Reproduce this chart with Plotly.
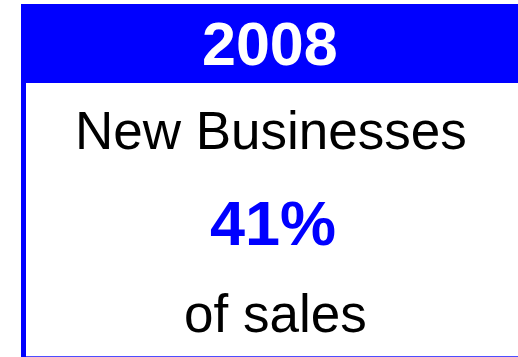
import plotly.graph_objects as go

# Card content
year = ["2008"]
labels = ["New Businesses"]
share_pct = [41]
suffix = ["of sales"]

W, H = 518, 357
BLUE = "#0000FF"

fig = go.Figure()

# Card frame: blue header band, thick left rule, thin bottom rule
fig.add_shape(type="rect", x0=21, x1=518, y0=4, y1=83,
              fillcolor=BLUE, line_width=0, layer="below")
fig.add_shape(type="rect", x0=21, x1=26, y0=83, y1=357,
              fillcolor=BLUE, line_width=0, layer="below")
fig.add_shape(type="line", x0=26, x1=518, y0=356.5, y1=356.5,
              line=dict(color="#4d4dff", width=1))

font = "Liberation Sans, Arial, sans-serif"
fig.add_annotation(x=270, y=44, text=f"<b>{year[0]}</b>", showarrow=False,
                   font=dict(family=font, size=61, color="white"),
                   xanchor="center", yanchor="middle")
fig.add_annotation(x=271, y=130, text=labels[0], showarrow=False,
                   font=dict(family=font, size=53, color="black"),
                   xanchor="center", yanchor="middle")
fig.add_annotation(x=273, y=223, text=f"<b>{share_pct[0]}%</b>", showarrow=False,
                   font=dict(family=font, size=63, color=BLUE),
                   xanchor="center", yanchor="middle")
fig.add_annotation(x=275, y=313, text=suffix[0], showarrow=False,
                   font=dict(family=font, size=53, color="black"),
                   xanchor="center", yanchor="middle")

fig.update_xaxes(range=[0, W], visible=False, fixedrange=True)
fig.update_yaxes(range=[H, 0], visible=False, fixedrange=True)
fig.update_layout(width=W, height=H, margin=dict(l=0, r=0, t=0, b=0),
                  paper_bgcolor="white", plot_bgcolor="white",
                  showlegend=False)

fig.write_html("out.html")
